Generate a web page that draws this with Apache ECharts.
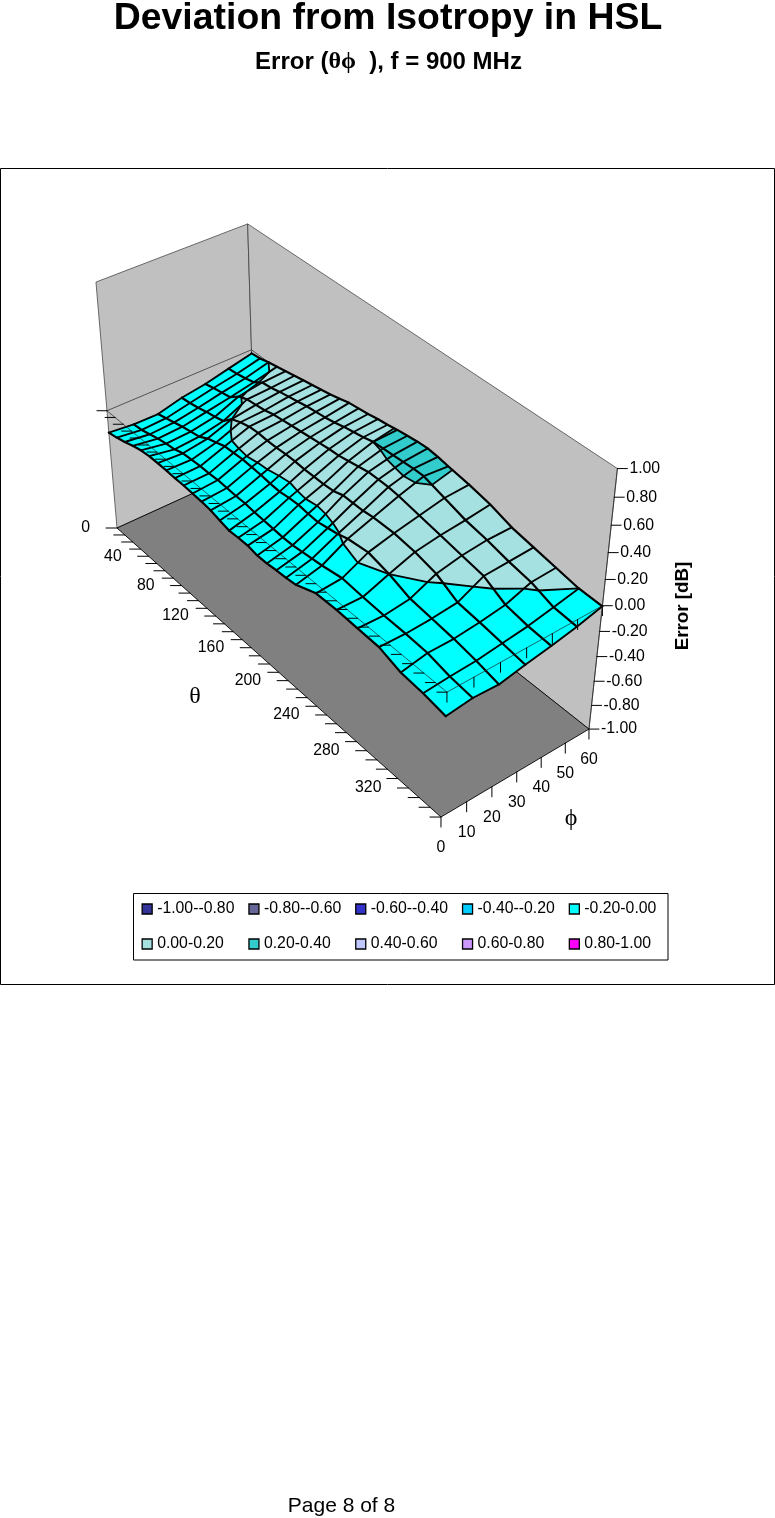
<!DOCTYPE html>
<html><head><meta charset="utf-8">
<style>html,body{margin:0;padding:0;background:#fff}#c{width:775px;height:1518px}</style>
<script src="https://cdn.jsdelivr.net/npm/echarts@6/dist/echarts.min.js"></script>
</head><body><div id="c"></div>
<script>
const thetaValues=[0,10,20,30,40,50,60,70,80,90,100,110,120,130,140,150,160,170,180,190,200,210,230,250,270,290,310,330,350];
const thetaTicks=[0,10,20,30,40,50,60,70,80,90,100,110,120,130,140,150,160,170,180,190,200,210,220,230,240,250,260,270,280,290,300,310,320,330,340,350];
const phiValues=[0,10,20,30,40,50,60];
const errTicks=[-1,-0.8,-0.6,-0.4,-0.2,0,0.2,0.4,0.6,0.8,1];
const thetaLabels=[0,40,80,120,160,200,240,280,320];
const err0 =[-.18,-.165,-.145,-.12,-.10,-.09,-.09,-.09,-.095,-.095,-.10,-.105,-.115,-.135,-.155,-.15,-.15,-.165,-.165,-.155,-.15,-.14,-.075,-.07,-.078,-.085,-.14,-.155,-.185];
const err10=[-.20,-.19,-.17,-.15,-.135,-.125,-.10,-.095,-.09,-.09,-.085,-.09,-.095,-.095,-.105,-.11,-.115,-.12,-.12,-.11,-.10,-.09,-.06,-.075,-.085,-.09,-.10,-.14,-.16];
const err20=[-.20,-.18,-.16,-.14,-.125,-.11,-.07,-.045,-.02,-.015,-.01,-.015,-.02,-.03,-.035,-.025,-.02,-.03,-.035,-.02,-.005,.02,.04,0,-.06,-.08,-.10,-.13,-.17];
const err30=[-.15,-.14,-.125,-.105,-.09,-.07,0,.03,.05,.055,.05,.05,.055,.055,.05,.05,.05,.055,.08,.08,.08,.09,.09,.07,.03,-.06,-.08,-.105,-.13];
const err40=[-.12,-.10,-.085,-.07,-.01,.02,.03,.04,.06,.07,.08,.09,.10,.11,.12,.125,.14,.155,.17,.17,.17,.16,.13,.10,.07,.04,-.05,-.08,-.095];
const err50=[-.075,-.065,-.05,-.03,.02,.03,.05,.065,.08,.095,.105,.115,.13,.15,.165,.18,.20,.205,.21,.215,.22,.22,.17,.12,.09,.05,.02,-.04,-.055];
const err60=[-.03,-.02,0,.015,.03,.045,.06,.075,.09,.105,.125,.145,.155,.165,.18,.19,.205,.215,.225,.23,.22,.205,.18,.145,.09,.06,.03,0,-.005];
const errByPhi=[err0,err10,err20,err30,err40,err50,err60];
const bandNames=['-1.00--0.80','-0.80--0.60','-0.60--0.40','-0.40--0.20','-0.20-0.00','0.00-0.20','0.20-0.40','0.40-0.60','0.60-0.80','0.80-1.00'];
const bandColors=['#333399','#666699','#3333cc','#00ccff','#00ffff','#a6e1e1','#33cccc','#c0c8ff','#cc99ff','#ff00ff'];
const bandLevels=[-1,-.8,-.6,-.4,-.2,0,.2,.4,.6,.8,1];

const cam={a:253.2,b:148.5,c:117,d:157.9,e:-43.8,f:528,g:-.1605,h:.0412,s:-.0884,vx:334,vy:3064};
const TH=thetaTicks[thetaTicks.length-1],PH=phiValues[phiValues.length-1];
function project(theta,phi,err){
  const u=theta/TH,v=phi/PH,t=(err+1)/2,st=cam.s*t;
  const den=cam.g*u+cam.h*v+1+st;
  return [(cam.a*u+cam.b*v+cam.c+st*cam.vx)/den,(cam.d*u+cam.e*v+cam.f+st*cam.vy)/den];
}
const FONT='15.8px "Liberation Sans",Arial,sans-serif';
const line=(api,pts,w,col)=>({type:'polyline',shape:{points:pts.map(p=>api.coord(p))},style:{stroke:col||'#000',lineWidth:w,fill:null,lineJoin:'round',lineCap:'round'},silent:true});
const text=(api,p,s,align,font)=>{const c=api.coord(p);return {type:'text',style:{text:String(s),x:c[0],y:c[1],align:align,verticalAlign:'middle',fill:'#000',font:font||FONT},silent:true};};
const poly=(api,pts,fill,stroke,w)=>({type:'polygon',shape:{points:pts.map(p=>api.coord(p))},style:{fill:fill,stroke:stroke||fill,lineWidth:w==null?.6:w},silent:true});

function clip(pg,lev,keepAbove){
  const out=[];
  for(let k=0;k<pg.length;k++){
    const A=pg[k],B=pg[(k+1)%pg.length];
    const ia=keepAbove?A[2]>=lev:A[2]<=lev, ib=keepAbove?B[2]>=lev:B[2]<=lev;
    if(ia)out.push(A);
    if(ia!==ib){const r=(lev-A[2])/(B[2]-A[2]);out.push([A[0]+(B[0]-A[0])*r,A[1]+(B[1]-A[1])*r,lev]);}
  }
  return out;
}
function renderCell(params,api){
  const i=api.value(0),j=api.value(1);
  const cell=[[i,j],[i+1,j],[i+1,j+1],[i,j+1]].map(n=>[thetaValues[n[0]],phiValues[n[1]],errByPhi[n[1]][n[0]]]);
  const kids=[];
  for(let b=0;b<bandColors.length;b++){
    let pg=clip(cell,bandLevels[b],true);
    if(pg.length)pg=clip(pg,bandLevels[b+1],false);
    if(pg.length>2)kids.push(poly(api,pg.map(q=>project(q[0],q[1],q[2])),bandColors[b]));
  }
  for(const lev of bandLevels){
    const cr=[];
    for(let k=0;k<4;k++){
      const A=cell[k],B=cell[(k+1)%4];
      if((A[2]<lev)!==(B[2]<lev)){const r=(lev-A[2])/(B[2]-A[2]);cr.push(project(A[0]+(B[0]-A[0])*r,A[1]+(B[1]-A[1])*r,lev));}
    }
    if(cr.length>=2)kids.push(line(api,[cr[0],cr[1]],1.8));
    if(cr.length==4)kids.push(line(api,[cr[2],cr[3]],1.8));
  }
  return {type:'group',children:kids};
}
const cells=[];
for(let i=0;i<thetaValues.length-1;i++)for(let j=phiValues.length-2;j>=0;j--)cells.push([i,j]);

function renderBox(p,api){
  const P=project;
  return {type:'group',children:[
    poly(api,[P(0,0,-1),P(0,PH,-1),P(0,PH,1),P(0,0,1)],'#c0c0c0','#333',.7),
    poly(api,[P(0,PH,-1),P(TH,PH,-1),P(TH,PH,1),P(0,PH,1)],'#c0c0c0','#333',.7),
    poly(api,[P(0,0,-1),P(TH,0,-1),P(TH,PH,-1),P(0,PH,-1)],'#808080','#000',.9),
    line(api,[P(0,0,0),P(0,PH,0),P(TH,PH,0)],.7,'#222')
  ]};
}
const meshLines=[];
phiValues.forEach((ph,j)=>meshLines.push([0,j]));
thetaValues.forEach((t,i)=>meshLines.push([1,i]));
function renderMeshLine(p,api){
  const kind=api.value(0),k=api.value(1);
  const pts=kind===0
    ? thetaValues.map((t,i)=>project(t,phiValues[k],errByPhi[k][i]))
    : phiValues.map((ph,j)=>project(thetaValues[k],ph,errByPhi[j][k]));
  return line(api,pts,kind===0?2.2:1.9);
}
function renderAxes(p,api){
  const kids=[];const off=(q,dx,dy)=>[q[0]+dx,q[1]+dy];const P=project;
  kids.push(line(api,[P(0,0,0),P(TH,0,0),P(TH,PH,0)],.7,'#222'));
  thetaTicks.forEach(t=>{const q=P(t,0,0);kids.push(line(api,[off(q,-10,0),q],1));});
  phiValues.forEach(ph=>{const q=P(TH,ph,0);kids.push(line(api,[q,off(q,0,10)],1));});
  thetaTicks.forEach(t=>{const q=P(t,0,-1);kids.push(line(api,[off(q,-11,0),q],1));});
  thetaLabels.forEach(t=>{const q=P(t,0,-1);kids.push(text(api,off(q,-27,0),t,'right'));});
  phiValues.forEach(ph=>{const q=P(TH,ph,-1);kids.push(line(api,[q,off(q,0,10)],1));kids.push(text(api,off(q,0,30.5),ph,'center'));});
  kids.push(line(api,[P(TH,PH,-1),P(TH,PH,1)],.7,'#222'));
  errTicks.forEach(e=>{const q=P(TH,PH,e);kids.push(line(api,[q,off(q,10,0)],1));kids.push(text(api,off(q,12,0),e.toFixed(2),'left'));});
  const sym='24px "Liberation Serif","DejaVu Serif",serif';
  kids.push(text(api,[195,697],'θ','center',sym));
  kids.push(text(api,[571,819],'ϕ','center',sym));
  const c=api.coord([683,606]);
  kids.push({type:'text',x:c[0],y:c[1],rotation:Math.PI/2,style:{text:'Error [dB]',x:0,y:0,align:'center',verticalAlign:'middle',fill:'#000',font:'bold 18.8px "Liberation Sans",Arial,sans-serif'},silent:true});
  return {type:'group',children:kids};
}
const base={type:'custom',coordinateSystem:'cartesian2d',clip:false,silent:true,animation:false};
const chart=echarts.init(document.getElementById('c'),null,{renderer:'canvas'});
chart.setOption({
  animation:false,backgroundColor:'#fff',
  grid:{left:0,top:0,right:0,bottom:0},
  xAxis:{type:'value',min:0,max:775,show:false},
  yAxis:{type:'value',min:0,max:1518,inverse:true,show:false},
  title:[
    {text:'Deviation from Isotropy in HSL',left:388,top:0,textAlign:'center',padding:0,textStyle:{fontFamily:'"Liberation Sans"',fontWeight:'bold',fontSize:37.4,color:'#000'}},
    {text:'{a|Error (}{b|θϕ}{a|  ), f = 900 MHz}',left:388.5,top:50,textAlign:'center',padding:0,textStyle:{rich:{a:{fontFamily:'"Liberation Sans"',fontWeight:'bold',fontSize:24,color:'#000'},b:{fontFamily:'"Liberation Serif"',fontSize:24,color:'#000'}}}},
    {text:'Page 8 of 8',left:341.5,top:1496,textAlign:'center',padding:0,textStyle:{fontFamily:'"Liberation Sans"',fontWeight:'normal',fontSize:21,color:'#000'}}
  ],
  graphic:[
    {type:'rect',shape:{x:.5,y:168.5,width:774,height:816},style:{fill:null,stroke:'#000',lineWidth:1},silent:true},
    {type:'rect',shape:{x:133.5,y:893.5,width:534.5,height:66.5},style:{fill:'#fff',stroke:'#000',lineWidth:1},silent:true,z:0}
  ],
  legend:bandNames.map((n,i)=>({left:141.5+106.8*(i%5),top:i<5?901:936,padding:0,itemWidth:10,itemHeight:10,icon:'rect',selectedMode:false,z:5,
    itemStyle:{borderColor:'#000',borderWidth:1.3},data:[n],
    textStyle:{fontSize:15.8,fontFamily:'"Liberation Sans"',color:'#000'}})),
  series:[
    Object.assign({},base,{name:'box',data:[[0,0]],renderItem:renderBox,z:1}),
    Object.assign({},base,{name:'surface',data:cells,renderItem:renderCell,z:2}),
    Object.assign({},base,{name:'mesh',data:meshLines,renderItem:renderMeshLine,z:3}),
    Object.assign({},base,{name:'axes',data:[[0,0]],renderItem:renderAxes,z:4})
  ].concat(bandNames.map((n,i)=>Object.assign({},base,{name:n,data:[],itemStyle:{color:bandColors[i]},renderItem:()=>null})))
});
</script></body></html>
